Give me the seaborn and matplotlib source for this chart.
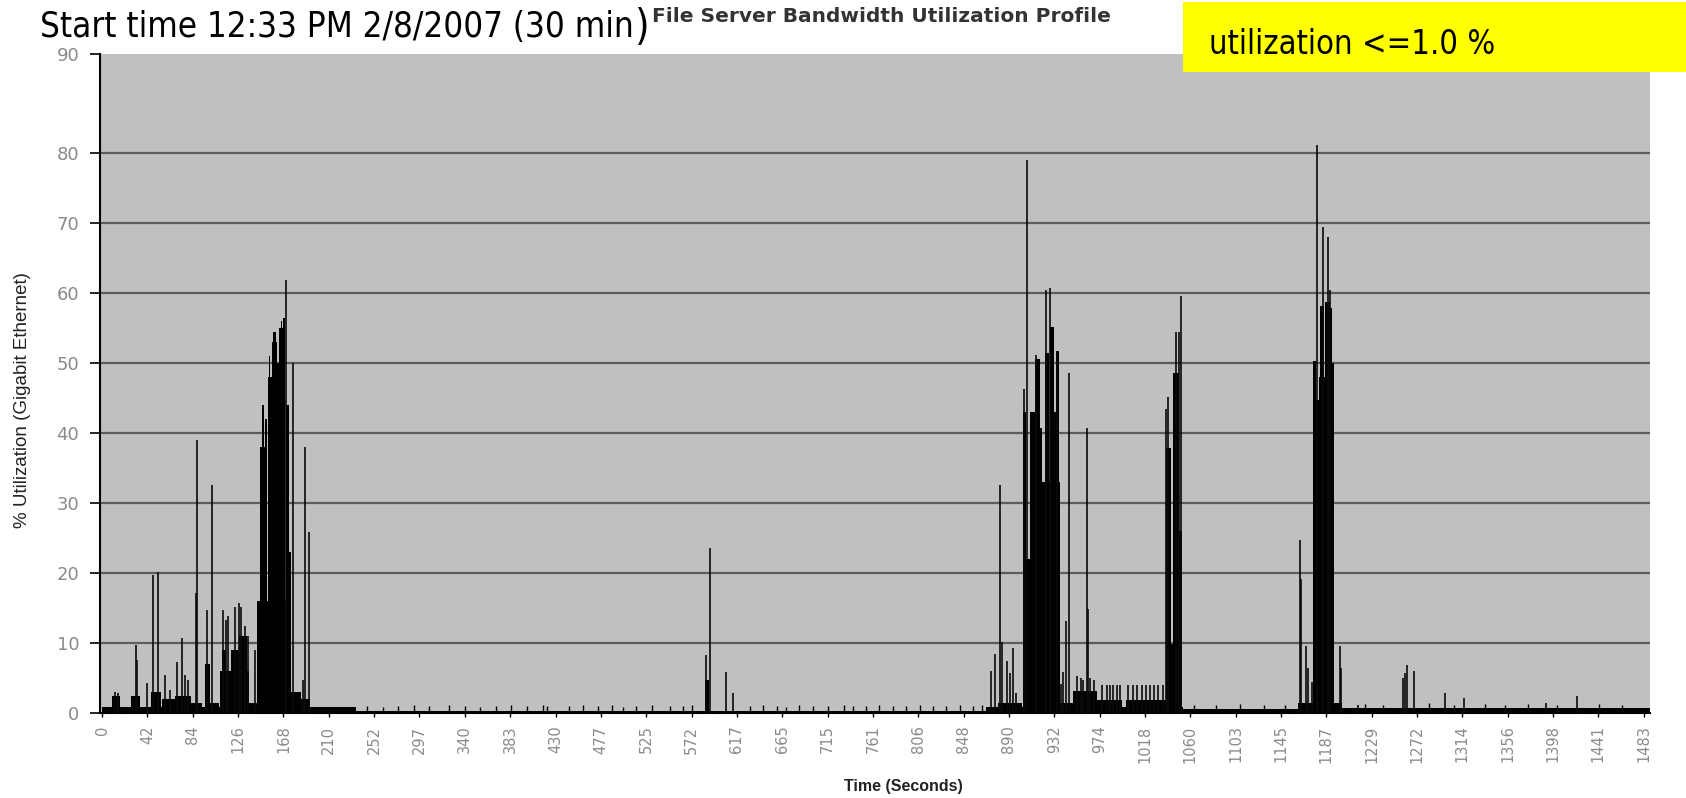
import numpy as np
import matplotlib
matplotlib.use("Agg")
import matplotlib.pyplot as plt
import seaborn as sns
from matplotlib.patches import Rectangle
from matplotlib import font_manager

# x tick labels (time in seconds, one per category tick)
tick_labels = ["0", "42", "84", "126", "168", "210", "252", "297", "340", "383",
               "430", "477", "525", "572", "617", "665", "715", "761", "806", "848",
               "890", "932", "974", "1018", "1060", "1103", "1145", "1187", "1229", "1272",
               "1314", "1356", "1398", "1441", "1483"]
y_labels = ["0", "10", "20", "30", "40", "50", "60", "70", "80", "90"]

# low background traffic: (start, end, level)
baseline = [(0, 200, 0.9), (200, 244, 0.8), (244, 850, 0.35), (850, 1040, 0.8),
            (1040, 1150, 0.6), (1150, 1193, 0.8), (1193, 1489, 0.7)]

# small periodic blips in the quiet period
blip_x = [255, 270, 285, 299.7, 314.7, 333.6, 348.7, 363.7, 378.7, 393.7, 408.7,
          423.7, 428, 449.5, 462.4, 477.4, 490.3, 501, 513.9, 528.9, 546.1, 559,
          567.6, 623.3, 636.2, 649, 657.6, 670.5, 683.4, 698.4, 713.4, 722, 735,
          747.8, 760.7, 773.6, 786.5, 799.4, 812.2, 825.1, 838, 846.6,
          1050, 1072, 1095, 1118, 1138, 1215, 1232, 1276, 1300, 1330, 1350,
          1372, 1400, 1440, 1462]
blip_y = [1.0, 0.9, 1.0, 1.1, 1.0, 1.1, 1.0, 0.9, 1.0, 1.1, 1.0,
          1.2, 1.0, 1.0, 1.1, 1.0, 1.1, 0.9, 1.0, 1.1, 1.0, 1.0,
          1.1, 1.0, 1.1, 1.0, 0.9, 1.1, 1.0, 1.0, 1.1, 1.0, 1.0,
          1.1, 1.0, 1.0, 1.1, 1.0, 1.0, 1.1, 1.0, 1.1,
          1.2, 1.1, 1.3, 1.2, 1.1, 1.3, 1.2, 1.4, 1.2, 1.3, 1.2,
          1.3, 1.2, 1.3, 1.2]

# solid bursts: (start, end, height)
blocks = [(10, 17, 2.5), (28, 36, 2.5), (47, 57, 3.0), (58, 70, 2.0), (70, 86, 2.5),
          (86, 96, 1.5), (99, 104, 7.0), (104, 112, 1.5), (113, 141, 6.0),
          (115, 119, 9.0), (124, 132, 9.0), (132, 139, 11.0), (141, 149.5, 1.5),
          (149.5, 182, 16.0), (152, 158, 38.0), (154, 156, 44.0), (157, 159, 42.0),
          (159.5, 163, 48.0), (160.5, 161.5, 51.0), (163.5, 168, 53.0), (164, 167, 54.5),
          (168, 170, 50.0), (170.5, 176, 55.0), (172, 173.5, 56.0), (174, 175.5, 56.4),
          (177, 180, 44.0), (180, 182, 23.0), (182, 191, 3.0), (191, 200, 2.0),
          (580, 584, 4.7),
          (862, 884.5, 1.4), (885.5, 889, 43.0), (889, 893, 22.0), (893, 921, 33.0),
          (893, 897, 43.0), (897, 902, 50.6), (902, 904, 40.7), (907, 911, 51.4),
          (912, 916, 55.1), (916, 918, 43.0), (918, 920.5, 51.7), (921, 934, 1.5),
          (934, 957, 3.1), (957, 981, 1.9), (985, 1023, 1.9), (1023, 1028, 37.9),
          (1028, 1030.5, 9.8), (1030.5, 1036, 48.6), (1036, 1039, 26.0),
          (1150, 1165, 1.5), (1165, 1168, 50.3), (1168, 1171, 44.7), (1171, 1185.5, 48.0),
          (1172, 1175, 58.1), (1176.5, 1181, 58.7), (1181.5, 1183, 57.9),
          (1183, 1185.5, 50.0), (1185.5, 1193, 1.5)]

# single-sample spikes: position, % utilization
spike_x = [12.5, 15, 30, 32.7, 34, 43, 48.7, 53.8, 60.5, 65, 71.8, 76.6, 79.7, 83,
           90.4, 91.6, 100.6, 105.4, 116.7, 119, 121, 128.2, 132, 134, 137, 140.5,
           147, 176.6, 184, 193, 195.2, 199.1,
           581, 585, 600, 607,
           855.5, 858.8, 863.6, 865.2, 870.6, 873.2, 876.4, 879.6, 886.7, 889.3,
           898.2, 907.8, 911.7, 918.8, 922.8, 924.5, 927.7, 930.3, 937.4, 941.2,
           943.8, 947.6, 948.5, 950.2, 954.2, 961.5, 966.3, 969.5, 972.7, 975.9,
           979.1, 987.2, 991.4, 995.9, 1000.0, 1004.2, 1008.1, 1011.9, 1016.1, 1020.3,
           1023.9, 1025.5, 1033.5, 1035.5, 1037.7,
           1152.1, 1153.7, 1158.0, 1160.3, 1163.5, 1168.2, 1174.1, 1179.6, 1181.2,
           1190.6, 1192.2,
           1208, 1251, 1253, 1255.7, 1261.7, 1291.6, 1310, 1389, 1419]
spike_y = [3.0, 2.8, 2.0, 9.7, 7.6, 4.3, 19.7, 20.2, 5.4, 3.3, 7.3, 10.7, 5.4, 4.7,
           17.1, 39.0, 14.7, 32.6, 14.7, 13.3, 13.8, 15.2, 15.7, 15.2, 12.4, 11.0,
           9.0, 61.9, 50.0, 4.7, 38.0, 25.9,
           8.3, 23.6, 5.9, 2.9,
           6.0, 8.4, 32.6, 10.2, 7.5, 5.7, 9.3, 2.8, 46.3, 79.0,
           51.1, 60.5, 60.7, 51.7, 4.2, 5.9, 13.2, 48.6, 5.3, 5.0,
           4.7, 40.7, 14.9, 5.0, 4.7, 4.0, 4.0, 4.0, 4.0, 4.0,
           4.0, 4.0, 4.0, 4.0, 4.0, 4.0, 4.0, 4.0, 4.0, 4.0,
           43.5, 45.2, 54.5, 54.5, 59.6,
           24.7, 19.1, 9.6, 6.5, 4.5, 81.2, 69.4, 68.0, 60.4,
           9.6, 6.5,
           1.1, 5.0, 5.7, 6.9, 6.0, 2.9, 2.1, 1.4, 2.5]

sns.set_theme(style="white")
plt.rcParams['font.family'] = ['Liberation Sans', 'DejaVu Sans']

# look for a condensed face for the big annotation text
narrow_fp = None
for f in font_manager.fontManager.ttflist:
    if f.name in ("Liberation Sans Narrow", "DejaVu Sans", "Noto Sans", "Open Sans") \
            and f.stretch in ("condensed", "semi-condensed", 500, 300, 400) \
            and str(f.stretch) not in ("normal",) and f.weight in (400, "normal", "regular") \
            and f.style == "normal":
        narrow_fp = f.fname
        break

W, H = 1686, 798
TOP = 54
fig = plt.figure(figsize=(W / 100, H / 100), dpi=100)
ax = fig.add_axes([100 / W, 1 - 713 / H, 1550 / W, (713 - TOP) / H])
ax.set_facecolor("#c0c0c0")
ymax = (713 - TOP) / 7.0

for v in range(10, 90, 10):
    ax.axhline(v, color="#5c5c5c", lw=1.6, zorder=1)

bx = [b[0] for b in baseline]
bw = [b[1] - b[0] for b in baseline]
bh = [b[2] for b in baseline]
ax.bar(bx, bh, width=bw, align="edge", color="black", linewidth=0, zorder=2)

kx = [b[0] for b in blocks]
kw = [b[1] - b[0] for b in blocks]
kh = [b[2] for b in blocks]
ax.bar(kx, kh, width=kw, align="edge", color="black", linewidth=0, zorder=3)

ax.vlines(blip_x, 0, blip_y, colors="black", linewidth=1.0, zorder=3)
ax.vlines(spike_x, 0, spike_y, colors="#0a0a0a", linewidth=1.2, zorder=4)

ax.set_xlim(-2, 1489)
ax.set_ylim(0, ymax)
# the source chart puts its "90" label at the top edge of the plot area
ax.set_yticks(list(range(0, 81, 10)) + [ymax])
ax.set_yticklabels(y_labels, color="#8a8a8a", fontsize=13, family="DejaVu Sans")
tick_pos = np.linspace(0, 1483, len(tick_labels))
ax.set_xticks(tick_pos)
ax.set_xticklabels(tick_labels, rotation=90, color="#8a8a8a", fontsize=10.5,
                   family="DejaVu Sans")
ax.tick_params(axis="y", direction="out", length=7, width=1.2, color="black", pad=8,
               left=True)
ax.tick_params(axis="x", direction="out", length=3, width=1.0, color="black", pad=6,
               bottom=True)

for s in ["top", "right"]:
    ax.spines[s].set_visible(False)
ax.spines["left"].set_color("black")
ax.spines["left"].set_linewidth(1.5)
ax.spines["bottom"].set_color("black")
ax.spines["bottom"].set_linewidth(1.5)

ax.set_ylabel("")
ax.set_xlabel("")
fig.text(23 / W, 1 - 400 / H, "% Utilization (Gigabit Ethernet)", rotation=90,
         ha="center", va="center", fontsize=13.5, color="#222222")
fig.text(903 / W, 1 - 787 / H, "Time (Seconds)", ha="center", va="center",
         fontsize=11.5, fontweight="bold", color="#222222")
fig.text(881 / W, 1 - 16 / H, "File Server Bandwidth Utilization Profile",
         ha="center", va="center", fontsize=14.5, fontweight="bold", color="#333333",
         family="DejaVu Sans")

# yellow note box
fig.patches.append(Rectangle((1183 / W, 1 - 72 / H), (W - 1183) / W, 70 / H,
                             transform=fig.transFigure, facecolor="#ffff00",
                             edgecolor="none", zorder=0))

if narrow_fp is not None:
    big = dict(fontproperties=font_manager.FontProperties(fname=narrow_fp, size=25))
    paren = dict(fontproperties=font_manager.FontProperties(fname=narrow_fp, size=30))
    small = dict(fontproperties=font_manager.FontProperties(fname=narrow_fp, size=23.5))
else:
    big = dict(fontsize=24, family="Liberation Sans")
    paren = dict(fontsize=29, family="Liberation Sans")
    small = dict(fontsize=22, family="Liberation Sans")

fig.text(1209 / W, 1 - 45 / H, "utilization <=1.0 %", ha="left", va="center",
         color="black", **small)

st = fig.text(40 / W, 1 - 27 / H, "Start time 12:33 PM 2/8/2007 (30 min", ha="left",
              va="center", color="black", **big)
fig.canvas.draw()
bb = st.get_window_extent()
fig.text(bb.x1 / W + 1 / W, 1 - 28 / H, ")", ha="left", va="center", color="black",
         **paren)

fig.savefig("out.png", dpi=100)
